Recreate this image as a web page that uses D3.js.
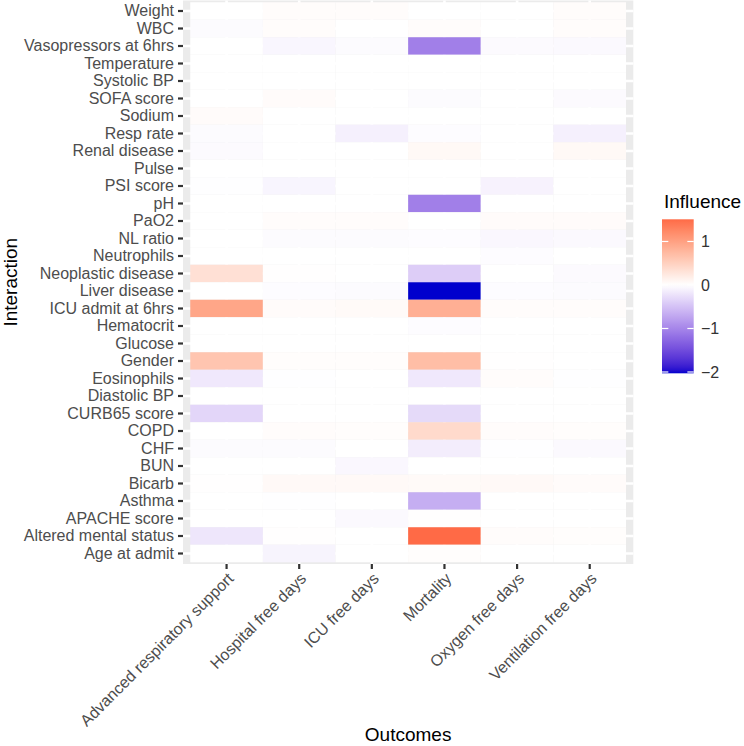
<!DOCTYPE html>
<html>
<head>
<meta charset="utf-8">
<script src="https://cdn.jsdelivr.net/npm/d3@7"></script>
<style>
  body { margin: 0; background: #fff; }
  text { font-family: "Liberation Sans", Arial, sans-serif; }
</style>
</head>
<body>
<div id="chart"></div>
<script>
// rows, listed top to bottom as drawn
const interactions = ['Weight', 'WBC', 'Vasopressors at 6hrs', 'Temperature', 'Systolic BP', 'SOFA score',
  'Sodium', 'Resp rate', 'Renal disease', 'Pulse', 'PSI score', 'pH', 'PaO2', 'NL ratio', 'Neutrophils',
  'Neoplastic disease', 'Liver disease', 'ICU admit at 6hrs', 'Hematocrit', 'Glucose', 'Gender',
  'Eosinophils', 'Diastolic BP', 'CURB65 score', 'COPD', 'CHF', 'BUN', 'Bicarb', 'Asthma',
  'APACHE score', 'Altered mental status', 'Age at admit'];
const outcomes = ['Advanced respiratory support', 'Hospital free days', 'ICU free days', 'Mortality',
  'Oxygen free days', 'Ventilation free days'];

// influence per outcome, same order as interactions
const advRespSupport = [0, -0.03, 0, 0, 0, 0, 0.04, -0.03, -0.04, 0, -0.01, 0, 0, 0, 0, 0.33, 0, 0.95, 0, 0,
  0.62, -0.18, 0, -0.33, 0, -0.03, 0, 0.01, 0, 0, -0.2, 0];
const hospitalFree = [0.03, 0.03, -0.07, 0, 0, 0.04, 0, 0, 0, 0, -0.08, 0, 0.03, -0.03, 0, 0.01, -0.02, 0.04, 0, 0,
  0.02, -0.01, 0, 0, 0.03, -0.03, 0, 0.06, -0.01, 0, 0.01, -0.09];
const icuFree = [0.03, 0, -0.03, 0, 0, 0, 0, -0.12, 0, 0, 0, 0, 0.03, -0.03, 0, 0, -0.03, 0.05, 0, 0,
  0.02, 0, 0, 0, 0.02, 0, -0.06, 0.06, 0, -0.05, 0, 0];
const mortality = [0, 0.03, -1.05, 0, 0, -0.03, 0, -0.02, 0.07, 0, 0, -1.05, 0, -0.02, 0, -0.4, -2.03, 0.85, -0.02, 0,
  0.7, -0.18, 0, -0.3, 0.4, -0.14, 0, 0.05, -0.66, 0.01, 1.51, 0.02];
const oxygenFree = [0, 0, -0.04, 0, 0, 0, 0, 0, 0, 0, -0.1, 0, 0.04, -0.06, -0.02, 0, -0.02, 0.03, 0, 0,
  0.01, 0.03, 0, 0, 0.03, -0.01, 0, 0.06, 0, 0, 0.03, 0];
const ventilationFree = [0.03, 0.03, -0.05, 0, 0, -0.04, 0, -0.12, 0.07, 0, 0, 0, 0.04, -0.05, 0, -0.04, -0.03, 0.03, 0, 0,
  0, -0.01, 0, 0, 0.02, -0.05, 0, 0.04, 0, 0, 0.02, 0];
const legendTicks = [-2, -1, 0, 1];

const seriesByOutcome = [advRespSupport, hospitalFree, icuFree, mortality, oxygenFree, ventilationFree];
const cells = [];
outcomes.forEach((o, j) => {
  interactions.forEach((r, i) => cells.push({ outcome: o, interaction: r, value: seriesByOutcome[j][i] }));
});

const width = 744, height = 746;
const panel = { left: 183, right: 633.3, top: 0.5, bottom: 564 };

const svg = d3.select('#chart').append('svg')
  .attr('width', width).attr('height', height);

const x = d3.scaleBand().domain(outcomes).range([panel.left, panel.right])
  .paddingInner(0).paddingOuter(0.1);
const y = d3.scaleBand().domain(interactions).range([panel.top, panel.bottom])
  .paddingInner(0).paddingOuter(0.1);

const ext = d3.extent(cells, d => d.value);
const maxAbs = d3.max(ext, v => Math.abs(v));
const color = d3.scaleDiverging()
  .domain([-maxAbs, 0, maxAbs])
  .interpolator(d3.piecewise(d3.interpolateLab, ['#0000CD', '#ffffff', '#ff0000']));

// panel background + grid
svg.append('rect')
  .attr('x', panel.left).attr('y', panel.top)
  .attr('width', panel.right - panel.left).attr('height', panel.bottom - panel.top)
  .attr('fill', '#EBEBEB');
const grid = svg.append('g').attr('stroke', '#fff').attr('stroke-width', 2.6);
grid.selectAll('line.gx').data(outcomes).join('line').attr('class', 'gx')
  .attr('x1', d => x(d) + x.bandwidth() / 2).attr('x2', d => x(d) + x.bandwidth() / 2)
  .attr('y1', panel.top).attr('y2', panel.bottom);
grid.selectAll('line.gy').data(interactions).join('line').attr('class', 'gy')
  .attr('y1', d => y(d) + y.bandwidth() / 2).attr('y2', d => y(d) + y.bandwidth() / 2)
  .attr('x1', panel.left).attr('x2', panel.right);

// tiles
svg.append('g').selectAll('rect').data(cells).join('rect')
  .attr('x', d => x(d.outcome))
  .attr('y', d => y(d.interaction))
  .attr('width', x.bandwidth())
  .attr('height', y.bandwidth())
  .attr('fill', d => color(d.value));

// axes
const yAxis = svg.append('g').attr('transform', `translate(${panel.left},0)`)
  .call(d3.axisLeft(y).tickSize(5).tickPadding(4));
yAxis.select('.domain').remove();
yAxis.selectAll('line').attr('stroke', '#333').attr('stroke-width', 2.2);
yAxis.selectAll('text').attr('fill', '#4D4D4D').attr('font-size', 16)
  .style('font-family', '"Liberation Sans", Arial, sans-serif');

const xAxis = svg.append('g').attr('transform', `translate(0,${panel.bottom})`)
  .call(d3.axisBottom(x).tickSize(5));
xAxis.select('.domain').remove();
xAxis.selectAll('line').attr('stroke', '#333').attr('stroke-width', 2.2);
xAxis.selectAll('text')
  .attr('fill', '#4D4D4D').attr('font-size', 16)
  .style('font-family', '"Liberation Sans", Arial, sans-serif')
  .attr('x', null).attr('y', null)
  .attr('text-anchor', 'end')
  .attr('dy', '0.71em')
  .attr('transform', 'translate(0,7.5) rotate(-45)');

// axis titles
svg.append('text')
  .attr('transform', `translate(17,${(panel.top + panel.bottom) / 2}) rotate(-90)`)
  .attr('text-anchor', 'middle').attr('font-size', 19).attr('fill', '#000')
  .text('Interaction');
svg.append('text')
  .attr('x', (panel.left + panel.right) / 2).attr('y', 741)
  .attr('text-anchor', 'middle').attr('font-size', 19).attr('fill', '#000')
  .text('Outcomes');

// colour bar legend
const bar = { x: 662, w: 31.7, top: 219.3, bottom: 373.3 };
const ly = d3.scaleLinear().domain(ext).range([bar.bottom, bar.top]);
const grad = svg.append('defs').append('linearGradient')
  .attr('id', 'influenceGrad').attr('x1', 0).attr('x2', 0).attr('y1', 1).attr('y2', 0);
d3.range(0, 1.0001, 0.02).forEach(t => {
  grad.append('stop').attr('offset', t)
    .attr('stop-color', color(ext[0] + t * (ext[1] - ext[0])));
});
svg.append('text')
  .attr('x', 664).attr('y', 208).attr('font-size', 19).attr('fill', '#000')
  .text('Influence');
svg.append('rect')
  .attr('x', bar.x).attr('y', bar.top).attr('width', bar.w).attr('height', bar.bottom - bar.top)
  .attr('fill', 'url(#influenceGrad)');
const lt = svg.append('g');
lt.selectAll('line.l').data(legendTicks).join('line').attr('class', 'l')
  .attr('x1', bar.x).attr('x2', bar.x + bar.w / 5)
  .attr('y1', d => ly(d)).attr('y2', d => ly(d))
  .attr('stroke', '#fff').attr('stroke-width', 1.2);
lt.selectAll('line.r').data(legendTicks).join('line').attr('class', 'r')
  .attr('x1', bar.x + bar.w * 4 / 5).attr('x2', bar.x + bar.w)
  .attr('y1', d => ly(d)).attr('y2', d => ly(d))
  .attr('stroke', '#fff').attr('stroke-width', 1.2);
lt.selectAll('text').data(legendTicks).join('text')
  .attr('x', 701).attr('y', d => ly(d)).attr('dy', '0.36em')
  .attr('font-size', 16).attr('fill', '#333')
  .text(d3.format('d'));
</script>
</body>
</html>
